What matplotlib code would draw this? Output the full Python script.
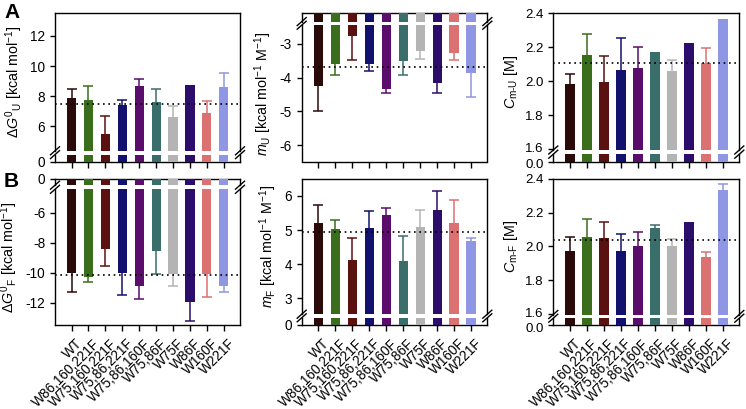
import matplotlib
matplotlib.use("Agg")
import matplotlib.pyplot as plt
from matplotlib.lines import Line2D
import matplotlib.transforms as mtransforms
import numpy as np

# ---------------- data ----------------
mutants = ["WT", "W86,160,221F", "W75,160,221F", "W75,86,221F", "W75,86,160F",
           "W75,86F", "W75F", "W86F", "W160F", "W221F"]
colors = ["#2b0a0a", "#3b6e1c", "#5c1111", "#13116e", "#5b0d6b",
          "#3a6e6a", "#b4b4b4", "#2c0d6b", "#db7171", "#8f96e3"]

dG_U = [7.87, 7.78, 5.51, 7.45, 8.71, 7.60, 6.63, 8.73, 6.89, 8.63]
dG_U_err = [0.62, 0.93, 1.16, 0.28, 0.45, 0.89, 0.75, 0.0, 0.78, 0.93]
dG_U_ref = 7.49

m_U = [-4.26, -3.59, -2.78, -3.61, -4.33, -3.50, -3.22, -4.15, -3.26, -3.87]
m_U_err = [0.74, 0.34, 0.71, 0.18, 0.13, 0.41, 0.24, 0.31, 0.23, 0.69]
m_U_ref = -3.69

Cm_U = [1.984, 2.156, 1.999, 2.065, 2.078, 2.172, 2.060, 2.228, 2.108, 2.366]
Cm_U_err = [0.057, 0.124, 0.150, 0.189, 0.122, 0.0, 0.065, 0.0, 0.088, 0.0]
Cm_U_ref = 2.107

dG_F = [-10.04, -10.31, -8.42, -10.04, -10.89, -8.56, -10.11, -11.95, -10.07, -10.91]
dG_F_err = [1.23, 0.33, 1.15, 1.43, 0.86, 1.55, 0.80, 1.27, 1.55, 0.38]
dG_F_ref = -10.16

m_F = [5.20, 5.03, 4.12, 5.07, 5.45, 4.08, 5.10, 5.59, 5.20, 4.67]
m_F_err = [0.53, 0.26, 0.64, 0.48, 0.20, 0.76, 0.49, 0.57, 0.69, 0.09]
m_F_ref = 4.93

Cm_F = [1.975, 2.055, 2.051, 1.976, 2.000, 2.110, 2.000, 2.143, 1.937, 2.337]
Cm_F_err = [0.084, 0.110, 0.092, 0.097, 0.088, 0.019, 0.047, 0.0, 0.032, 0.032]
Cm_F_ref = 2.039

# ---------------- style ----------------
plt.rcParams['font.family'] = ['Liberation Sans', 'DejaVu Sans']
plt.rcParams['mathtext.fontset'] = 'custom'
plt.rcParams['mathtext.rm'] = 'Liberation Sans'
plt.rcParams['mathtext.it'] = 'Liberation Sans:italic'
plt.rcParams['mathtext.bf'] = 'Liberation Sans:bold'
plt.rcParams['axes.unicode_minus'] = False
plt.rcParams['axes.linewidth'] = 1.0
plt.rcParams['xtick.major.width'] = 1.0
plt.rcParams['ytick.major.width'] = 1.0
plt.rcParams['xtick.major.size'] = 4
plt.rcParams['ytick.major.size'] = 3.5

W, H = 746, 409
fig = plt.figure(figsize=(W / 100, H / 100), dpi=100)


def add_ax(x0, y0, x1, y1):
    return fig.add_axes([x0 / W, 1 - y1 / H, (x1 - x0) / W, (y1 - y0) / H])


x = np.arange(len(mutants))
XLIM = (-0.98, 9.96)
FS = 9.8


def shift(texts, dx, dy):
    off = mtransforms.ScaledTranslation(dx / 100, dy / 100, fig.dpi_scale_trans)
    for t in texts:
        t.set_transform(t.get_transform() + off)


def break_marks(xl, xr, ygap0, ygap1):
    for xs in (xl, xr):
        for yy in (ygap0, ygap1):
            fig.add_artist(Line2D([(xs - 4.5) / W, (xs + 4.5) / W],
                                  [1 - (yy + 4) / H, 1 - (yy - 4) / H],
                                  color='black', lw=1.0, transform=fig.transFigure))


def panel(xl, xr, ytop, ybot, gap_top, gap_bot, data, err, ref, main_lim,
          small_lim, main_ticks, small_ticks, fmt, ylabel, main_on_top,
          show_labels, squeeze=False):
    if main_on_top:
        axm = add_ax(xl, ytop, xr, gap_top)
        axs = add_ax(xl, gap_bot, xr, ybot)
    else:
        axs = add_ax(xl, ytop, xr, gap_top)
        axm = add_ax(xl, gap_bot, xr, ybot)
    for ax in (axm, axs):
        ax.bar(x, data, width=0.54, color=colors, zorder=3)
        ax.set_xlim(*XLIM)
        ax.tick_params(labelsize=FS, colors='black')
    axm.set_ylim(*main_lim)
    axs.set_ylim(*small_lim)
    sign = 1 if np.mean(data) > 0 else -1
    for i in range(len(data)):
        e = err[i]
        if e <= 0:
            continue
        yerr = [[0], [e]] if sign > 0 else [[e], [0]]
        _, caps, _ = axm.errorbar(x[i], data[i], yerr=yerr, fmt='none',
                                  ecolor=colors[i], elinewidth=1.1,
                                  capsize=3.4, capthick=1.1, zorder=2)
        if sign > 0:
            caps[0].set_visible(False)
        else:
            caps[1].set_visible(False)
    axm.axhline(ref, color='black', ls=(0, (1, 2.2)), lw=1.2, zorder=4)
    axm.set_yticks(main_ticks)
    axs.set_yticks(small_ticks)
    axm.yaxis.set_major_formatter(plt.FormatStrFormatter(fmt))
    axs.yaxis.set_major_formatter(plt.FormatStrFormatter(fmt))
    if squeeze:
        mlabs = axm.set_yticklabels([fmt % v for v in main_ticks])
        slabs = axs.set_yticklabels([fmt % v for v in small_ticks])
        shift([mlabs[0]], 0, 1.5)
        shift(slabs, 0, -2.0)
        for t in list(mlabs) + list(slabs):
            t.set_fontsize(FS - 0.3)
    top_ax, bot_ax = (axm, axs) if main_on_top else (axs, axm)
    top_ax.spines['bottom'].set_visible(False)
    bot_ax.spines['top'].set_visible(False)
    top_ax.tick_params(axis='x', bottom=False, labelbottom=False)
    bot_ax.set_xticks(x)
    if show_labels:
        labs = bot_ax.set_xticklabels(mutants, rotation=45, ha='right',
                                      rotation_mode='anchor', fontsize=FS)
        shift(labs, 4, -1)
    else:
        bot_ax.set_xticklabels([])
    axm.set_ylabel(ylabel, fontsize=FS + 0.5, labelpad=4)
    break_marks(xl, xr, gap_top, gap_bot)
    return axm, axs


XL = [55, 301.7, 553.3]
XR = [240, 487.3, 739.3]

# Row A
panel(XL[0], XR[0], 13.3, 161.5, 150.8, 154.6, dG_U, dG_U_err, dG_U_ref,
      (4.38, 13.5), (0, 0.45), [6, 8, 10, 12], [0], '%d',
      r'$\Delta G^{0}{}_{\mathrm{U}}$ [kcal mol$^{-1}$]', True, False)
panel(XL[1], XR[1], 13.3, 161.5, 21.6, 25.2, m_U, m_U_err, m_U_ref,
      (-6.48, -2.45), (-0.3, 0), [-6, -5, -4, -3], [], '%d',
      r'$m_{\mathrm{U}}$ [kcal mol$^{-1}$ M$^{-1}$]', False, False)
panel(XL[2], XR[2], 13.3, 161.5, 150.0, 154.2, Cm_U, Cm_U_err, Cm_U_ref,
      (1.597, 2.4), (0, 0.05), [1.6, 1.8, 2.0, 2.2, 2.4], [0.0], '%.1f',
      r'$C_{\mathrm{m\text{-}U}}$ [M]', True, False, squeeze=True)

# Row B
panel(XL[0], XR[0], 178.5, 325, 185.2, 189.3, dG_F, dG_F_err, dG_F_ref,
      (-13.49, -4.44), (-0.5, 0), [-12, -10, -8, -6], [0], '%d',
      r'$\Delta G^{0}{}_{\mathrm{F}}$ [kcal mol$^{-1}$]', False, True)
panel(XL[1], XR[1], 179.3, 325, 314.2, 317.8, m_F, m_F_err, m_F_ref,
      (2.53, 6.49), (0, 0.3), [3, 4, 5, 6], [0], '%d',
      r'$m_{\mathrm{F}}$ [kcal mol$^{-1}$ M$^{-1}$]', True, True)
panel(XL[2], XR[2], 179.0, 325, 314.5, 318.2, Cm_F, Cm_F_err, Cm_F_ref,
      (1.597, 2.4), (0, 0.05), [1.6, 1.8, 2.0, 2.2, 2.4], [0.0], '%.1f',
      r'$C_{\mathrm{m\text{-}F}}$ [M]', True, True, squeeze=True)

fig.text(4 / W, 1 - 3 / H, 'A', fontsize=15, fontweight='bold', va='top', ha='left')
fig.text(4 / W, 1 - 172 / H, 'B', fontsize=15, fontweight='bold', va='top', ha='left')

fig.savefig('out.png', dpi=100)
